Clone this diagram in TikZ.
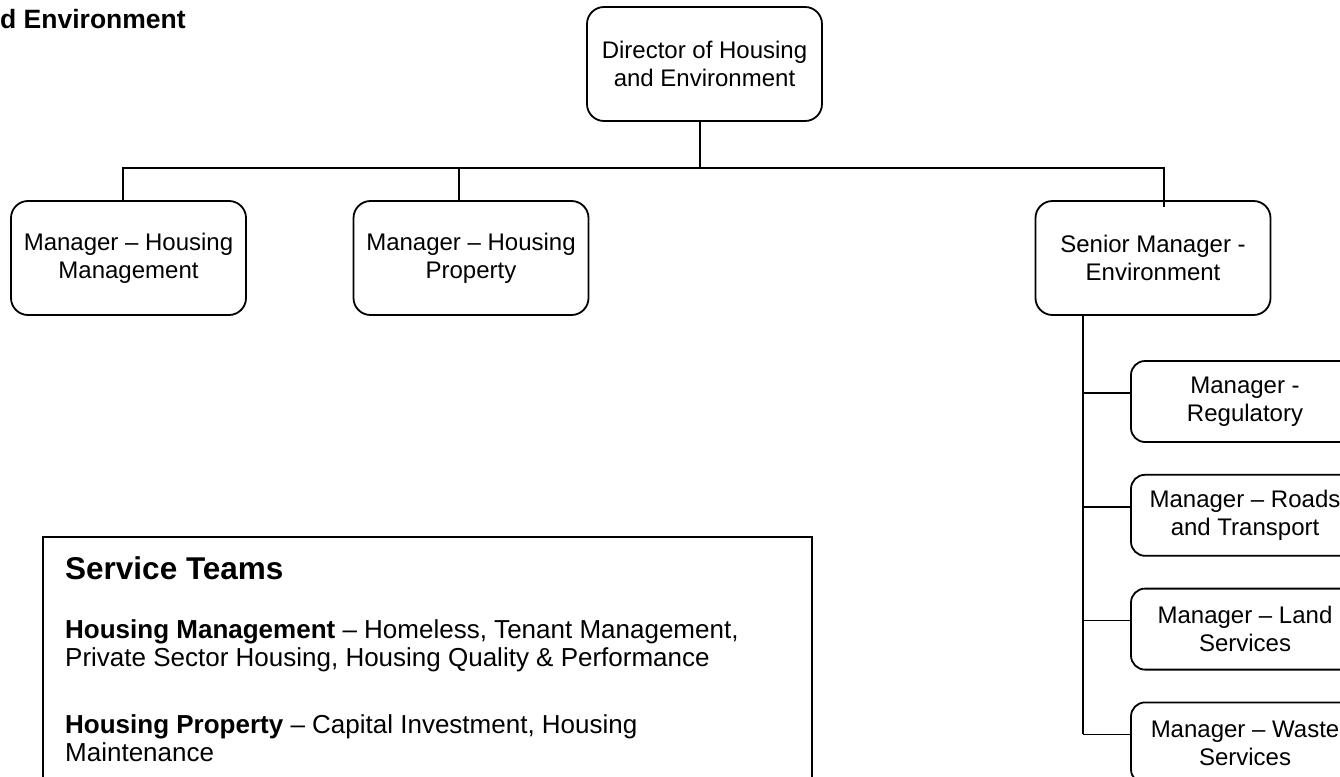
\documentclass[tikz,border=0pt]{standalone}
\usepackage{fontspec}
\setmainfont{Liberation Sans}
\usetikzlibrary{positioning}
\tikzstyle{chart} = [x = 1pt, y = -1pt]
\newcommand{\boxFont}{\fontsize{24}{28}\selectfont}
\newcommand{\bodyFont}{\fontsize{26}{28}\selectfont}
\tikzstyle{managerStyle} = [draw=black, fill=white, rounded corners = 17pt, line width = 1.8pt, minimum width = 235pt, minimum height = 114pt, align = center, font = \boxFont]
\tikzstyle{unitStyle} = [managerStyle, minimum width = 228pt, minimum height = 81pt, rounded corners = 14pt]
\tikzstyle{linkLine} = [color=black, line width = 1.5pt]
\tikzstyle{panelStyle} = [draw=black, line width = 1.6pt]
\tikzstyle{panelText} = [anchor = base west, inner sep = 0pt, align = left, font = \bodyFont]
\newcommand{\unitBelow}[3]{\node [unitStyle, below = 31pt of #2] (#1) {#3};}

\begin{document}
\begin{tikzpicture}[chart]
  \useasboundingbox (0,0) rectangle (1340,776);
  \clip (0,0) rectangle (1340,776);

  \node [anchor = base west, inner sep = 0pt, font = \fontsize{26.5}{30}\selectfont\bfseries] (pageTitle) at (0,29) {d Environment};

  % top of the chart
  \node [managerStyle] (director) at (704.5,64) {Director of Housing\\and Environment};
  \node [managerStyle] (housingMgmt) at (128.5,258) {Manager -- Housing\\Management};
  \node [managerStyle] (housingProp) at (471,258) {Manager -- Housing\\Property};
  \node [managerStyle] (seniorEnv) at (1153,258) {Senior Manager -\\Environment};

  % environment teams
  \node [unitStyle] (regulatory) at (1245,401.5) {Manager -\\Regulatory};
  \unitBelow{roads}{regulatory}{Manager -- Roads\\and Transport}
  \unitBelow{land}{roads}{Manager -- Land\\Services}
  \unitBelow{waste}{land}{Manager -- Waste\\Services}

  % connectors
  \coordinate (busLeft) at (123,168);
  \coordinate (busRight) at (1164,168);
  \coordinate (dirDrop) at ([xshift=-4.5pt]director.south);
  \coordinate (propDrop) at ([xshift=-12pt]housingProp.north);
  \draw [linkLine] (dirDrop) -- (dirDrop |- busLeft);
  \draw [linkLine] (housingMgmt.north -| busLeft) -- (busLeft) -- (busRight) -- ++(0,39);
  \draw [linkLine] (propDrop) -- (propDrop |- busLeft);

  \coordinate (spineTop) at ([xshift=-70pt]seniorEnv.south);
  \coordinate (spineEnd) at ([yshift=8.5pt]waste.west);
  \draw [linkLine] (spineTop) -- (spineTop |- spineEnd);
  \foreach \unit in {regulatory, roads, land, waste} {
    \coordinate (stub) at ([yshift=8.5pt]\unit.west);
    \draw [linkLine] (stub) -- (stub -| spineTop);
  }

  % service teams panel
  \draw [panelStyle] (43,537) rectangle (812,800);
  \node [panelText, font = \fontsize{31.5}{34}\selectfont\bfseries] (panelHead) at (65,579) {Service Teams};
  \node [panelText] (mgmtTeams) at (65,666) {\textbf{Housing Management} -- Homeless, Tenant Management,\\Private Sector Housing, Housing Quality \& Performance};
  \node [panelText] (propTeams) at (65,761) {\textbf{Housing Property} -- Capital Investment, Housing\\Maintenance};
\end{tikzpicture}
\end{document}
